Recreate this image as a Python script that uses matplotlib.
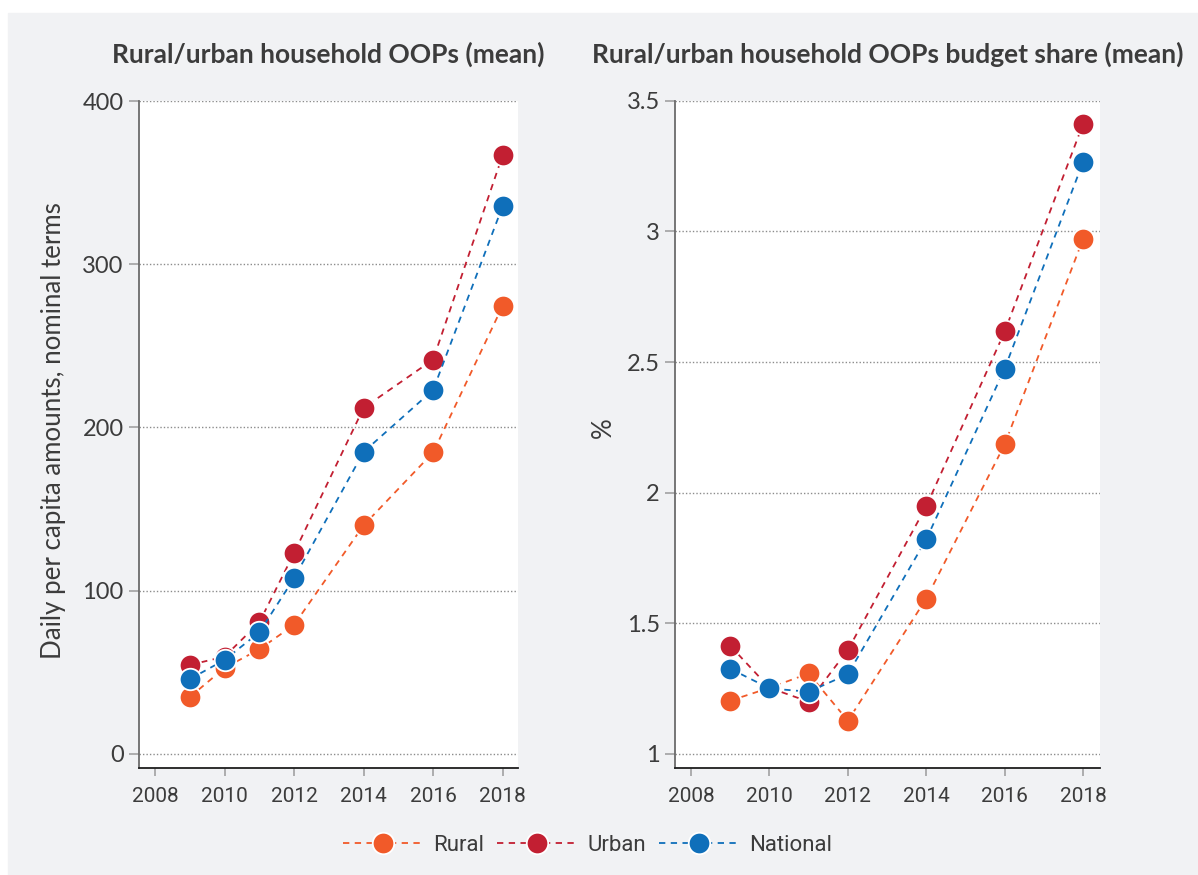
import numpy as np
import matplotlib
matplotlib.use("Agg")
import matplotlib.pyplot as plt
from matplotlib.patches import Rectangle

# ── data ──────────────────────────────────────────────────
years = [2009, 2010, 2011, 2012, 2014, 2016, 2018]

oop_rural = [34.7, 52.6, 64.0, 79.0, 140.0, 184.7, 274.6]
oop_urban = [54.4, 59.5, 80.5, 123.0, 212.0, 241.6, 367.0]
oop_national = [45.7, 57.5, 74.4, 107.6, 185.0, 223.0, 335.8]

share_rural = [1.203, 1.252, 1.307, 1.126, 1.594, 2.185, 2.972]
share_urban = [1.413, 1.252, 1.199, 1.397, 1.948, 2.617, 3.413]
share_national = [1.325, 1.250, 1.237, 1.304, 1.821, 2.475, 3.267]

series_names = ["Rural", "Urban", "National"]
xticks = [2008, 2010, 2012, 2014, 2016, 2018]
left_yticks = [0, 100, 200, 300, 400]
right_yticks = [1, 1.5, 2, 2.5, 3, 3.5]
right_yticklabels = ["1", "1.5", "2", "2.5", "3", "3.5"]

left_title = "Rural/urban household OOPs (mean)"
right_title = "Rural/urban household OOPs budget share (mean)"
left_ylabel = "Daily per capita amounts, nominal terms"
right_ylabel = "%"

# ── style ─────────────────────────────────────────────────
COLORS = ["#F15A29", "#C21F32", "#0F6FBA"]
BG = "#F1F2F4"
TEXT = "#3C3C3C"
NARROW = ["Roboto", "DejaVu Sans"]
REGULAR = ["Lato", "DejaVu Sans"]

W, H = 1198, 875
fig = plt.figure(figsize=(W / 100, H / 100), dpi=100, facecolor="white")
fig.patches.append(Rectangle((8 / W, 0), 1 - 8 / W, 1 - 13 / H,
                             transform=fig.transFigure, color=BG, zorder=-5))


def px_box(x0, x1, ytop, ybot):
    return [x0 / W, 1 - ybot / H, (x1 - x0) / W, (ybot - ytop) / H]


ax1 = fig.add_axes(px_box(139, 518, 100.7, 768))
ax2 = fig.add_axes(px_box(675, 1100, 100.7, 768))


def draw_panel(ax, data, xlim, ylim, yticks, yticklabels, title, ylabel, ylab_x, ylab_y):
    for vals, color, name in zip(data, COLORS, series_names):
        ax.plot(years, vals, color=color, lw=1.3, ls=(0, (3.5, 3)),
                marker="o", ms=15.5, mfc=color, mec="white", mew=1.3,
                label=name, zorder=3, clip_on=False)
    ax.set_xlim(*xlim)
    ax.set_ylim(*ylim)
    ax.set_facecolor("white")
    ax.set_xticks(xticks)
    ax.set_xticklabels([str(t) for t in xticks], family=NARROW, fontsize=15, color=TEXT)
    ax.set_yticks(yticks)
    ax.set_yticklabels(yticklabels, family=REGULAR, fontsize=17, color=TEXT)
    ax.tick_params(axis="x", length=6, width=1.1, color="#9A9A9A", pad=8)
    ax.tick_params(axis="y", length=7.5, width=1.1, color="#9A9A9A", pad=3.5)
    ax.grid(axis="y", color="#8C8C8C", ls=(0, (1, 1.5)), lw=1.0)
    ax.set_axisbelow(True)
    for s in ("top", "right"):
        ax.spines[s].set_visible(False)
    ax.spines["left"].set_color("#6B6B6B")
    ax.spines["left"].set_linewidth(1.3)
    ax.spines["bottom"].set_color("#1E1E1E")
    ax.spines["bottom"].set_linewidth(1.3)
    ax.set_ylabel(ylabel, family=REGULAR, fontsize=18.6, color=TEXT, va="center")
    ax.yaxis.set_label_coords(ylab_x, ylab_y)
    bb = ax.get_position()
    fig.text(bb.x0 + bb.width / 2, 1 - 62.3 / H, title, ha="center", va="baseline",
             family=["Lato", "DejaVu Sans"], weight="bold", fontsize=19, color=TEXT)


draw_panel(ax1, [oop_rural, oop_urban, oop_national], (2007.54, 2018.44),
           (-8.76, 400.3), left_yticks, [str(t) for t in left_yticks],
           left_title, left_ylabel, (54 - 139) / 379, 0.505)
draw_panel(ax2, [share_rural, share_urban, share_national], (2007.59, 2018.43),
           (0.945, 3.501), right_yticks, right_yticklabels,
           right_title, right_ylabel, (603 - 675) / 425, 0.51)

handles, labels = ax1.get_legend_handles_labels()
leg = fig.legend(handles, labels, loc="center", bbox_to_anchor=(587.5 / W, 1 - 845.7 / H),
                 ncol=3, frameon=False, handlelength=3.6, handletextpad=0.45,
                 columnspacing=0.6, prop={"family": NARROW, "size": 16})
for t in leg.get_texts():
    t.set_color(TEXT)

fig.savefig("out.png", dpi=100, facecolor=fig.get_facecolor())
